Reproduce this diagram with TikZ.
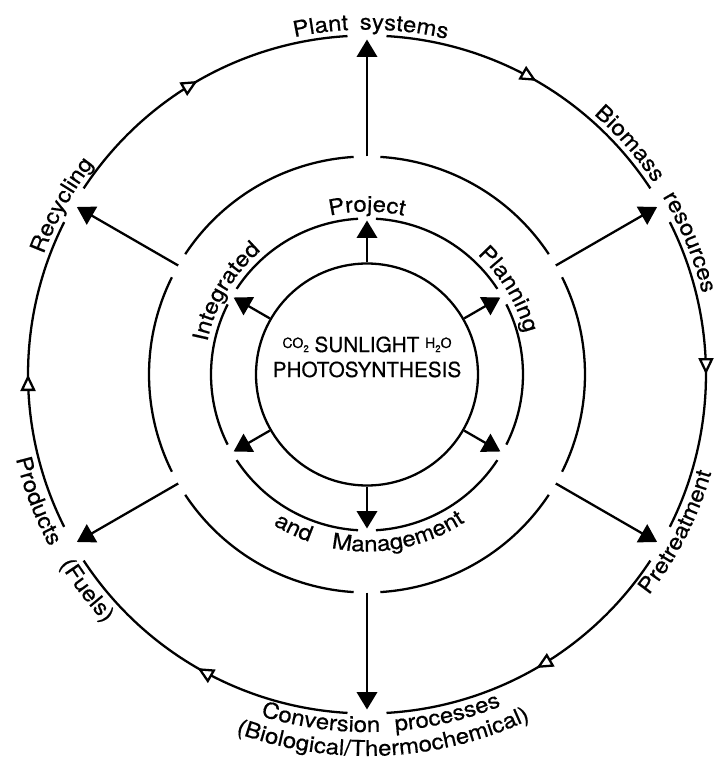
\documentclass[tikz,border=0pt]{standalone}
\usepackage{fontspec}
\setmainfont[FakeBold=0.5]{TeX Gyre Heros}
\newfontfamily\ringface[FakeStretch=1.1,FakeBold=0.5]{TeX Gyre Heros}
\usepackage{tikz}
\usetikzlibrary{arrows.meta,decorations.text,decorations.markings}

\newcommand\corefont{\fontsize{11.8}{14}\selectfont}
\newcommand\ringfont{\ringface\fontsize{12.4}{15}\selectfont}
% small raised letters and subscripts for the molecules
\newcommand\molhi[1]{\raisebox{2.3pt}{\fontsize{8}{9}\selectfont #1}}
\newcommand\molsub[1]{{\fontsize{5.5}{6}\selectfont #1}}

% words set along a circle: #1 baseline radius, #2 centre angle, #3 word
\newcommand\cwlabel[3]{%
  \path[decorate,decoration={text along path,text align=center,text={|\ringfont|#3}}]
    (#2+40:#1) arc[start angle=#2+40,end angle=#2-40,radius=#1];}
\newcommand\ccwlabel[3]{%
  \path[decorate,decoration={text along path,text align=center,text={|\ringfont|#3}}]
    (#2-40:#1) arc[start angle=#2-40,end angle=#2+40,radius=#1];}

\tikzset{
  spoke/.style   = {-{Triangle[length=3.5mm,width=4.1mm]},line width=1.3pt},
  ringarc/.style = {line width=1.3pt},
  flowarc/.style = {line width=1.3pt,postaction={decorate},
    decoration={markings,mark=at position 0.5 with
      {\arrow{Triangle[length=3.3mm,width=3mm,fill=white]}}}}
}

\begin{document}
\begin{tikzpicture}
  \useasboundingbox (-7.34,-7.69) rectangle (7.04,7.49);
  \node[circle,draw,line width=1.3pt,minimum size=4.44cm,inner sep=0pt] (core) at (0,0) {};
  \node[anchor=base,font=\corefont] (gas) at (0,0.45)
    {\molhi{CO}\molsub{2} SUNLIGHT \molhi{H}\molsub{2}\molhi{O}};
  \node[anchor=base,font=\corefont] (photo) at (0,-0.05) {PHOTOSYNTHESIS};

  % rings, cycle arcs and spokes
  \foreach \a in {90,30,330,270,210,150} {
    \draw[ringarc] (\a+3.3:3.12) arc[start angle=\a+3.3,end angle=\a+56.7,radius=3.12];
    \draw[ringarc] (\a+3.5:4.36) arc[start angle=\a+3.5,end angle=\a+56.5,radius=4.36];
    \draw[flowarc] (\a+56.7:6.78) arc[start angle=\a+56.7,end angle=\a+3.3,radius=6.78];
    \coordinate (plan-\a) at (\a:3.08);
    \coordinate (hub-\a) at (\a:4.36);
    \coordinate (stage-\a) at (\a:6.7);
    \draw[spoke] (core.\a) -- (plan-\a);
    \draw[spoke] (hub-\a) -- (stage-\a);
  }

  % planning ring
  \cwlabel{3.26}{149.5}{Integrated}
  \cwlabel{3.26}{90}{Project}
  \cwlabel{3.26}{31}{Planning}
  \ccwlabel{3.54}{-115.5}{and}
  \ccwlabel{3.54}{-79}{Management}

  % outer cycle
  \cwlabel{6.9}{97.6}{Plant}
  \cwlabel{6.9}{83.9}{systems}
  \cwlabel{6.9}{41.3}{Biomass}
  \cwlabel{6.9}{22.3}{resources}
  \ccwlabel{7.16}{-27}{Pretreatment}
  \ccwlabel{7.15}{-97.6}{Conversion}
  \ccwlabel{7.15}{-76.7}{processes}
  \ccwlabel{7.63}{-87.4}{(Biological/Thermochemical)}
  \ccwlabel{7.22}{-142.4}{(Fuels)}
  \ccwlabel{7.22}{-159}{Products}
  \cwlabel{6.9}{151}{Recycling}
\end{tikzpicture}
\end{document}
